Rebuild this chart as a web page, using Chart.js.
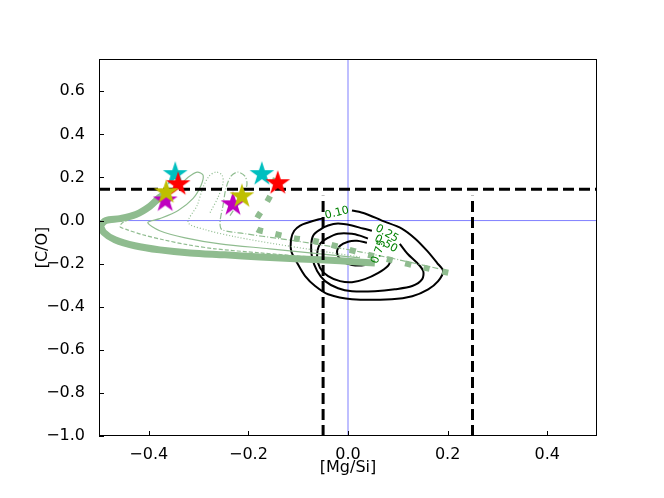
<!DOCTYPE html>
<html>
<head>
<meta charset="utf-8">
<script src="https://cdn.jsdelivr.net/npm/chart.js@4/dist/chart.umd.min.js"></script>
<style>
  body { margin: 0; background: #fff; }
</style>
</head>
<body>
<canvas id="plot" width="664" height="498"></canvas>
<script>
// axis ticks
const xTicks = [-0.4, -0.2, 0.0, 0.2, 0.4];
const yTicks = [-1.0, -0.8, -0.6, -0.4, -0.2, 0.0, 0.2, 0.4, 0.6];

// contour levels, open where the label sits
const contour10 = [[0.008,0.047],[0.034,0.033],[0.068,0.000],[0.108,-0.037],[0.135,-0.084],[0.159,-0.141],[0.179,-0.197],[0.191,-0.234],[0.181,-0.281],[0.161,-0.319],[0.129,-0.351],[0.088,-0.365],[0.008,-0.365],[-0.040,-0.342],[-0.066,-0.304],[-0.086,-0.258],[-0.102,-0.197],[-0.114,-0.141],[-0.114,-0.084],[-0.108,-0.047],[-0.096,-0.023],[-0.080,-0.009],[-0.060,0.005],[-0.052,0.009]];
const contour25 = [[0.104,-0.108],[0.120,-0.155],[0.139,-0.197],[0.151,-0.234],[0.149,-0.272],[0.129,-0.304],[0.094,-0.319],[0.054,-0.328],[0.008,-0.328],[-0.020,-0.314],[-0.046,-0.281],[-0.062,-0.234],[-0.072,-0.173],[-0.074,-0.117],[-0.070,-0.070],[-0.056,-0.042],[-0.040,-0.023],[-0.020,-0.014],[0.008,-0.023],[0.030,-0.037],[0.048,-0.047]];
const contour50 = [[0.088,-0.173],[0.080,-0.211],[0.060,-0.244],[0.034,-0.272],[0.008,-0.286],[-0.016,-0.281],[-0.040,-0.258],[-0.056,-0.220],[-0.062,-0.164],[-0.056,-0.108],[-0.040,-0.080],[-0.020,-0.061],[0.008,-0.061],[0.024,-0.070],[0.040,-0.084]];
const contour75 = [[0.054,-0.187],[0.034,-0.206],[0.008,-0.206],[-0.012,-0.187],[-0.022,-0.150],[-0.016,-0.117],[0.000,-0.098],[0.018,-0.094],[0.038,-0.103]];
const levelText = ['0.10', '0.25', '0.50', '0.75'];
const levelAt = [[-0.022,0.035],[0.078,-0.061],[0.076,-0.108],[0.062,-0.145]];
const levelRot = [-14, 30, 30, -70];

// model tracks
const thickTrack = [[-0.367,0.126],[-0.378,0.108],[-0.398,0.066],[-0.426,0.028],[-0.458,0.009],[-0.486,0.000],[-0.496,-0.023],[-0.490,-0.056],[-0.468,-0.089],[-0.428,-0.117],[-0.378,-0.136],[-0.317,-0.150],[-0.247,-0.159],[-0.177,-0.169],[-0.096,-0.178],[-0.016,-0.187],[0.054,-0.197]];
const solidTrack = [[-0.337,0.164],[-0.321,0.201],[-0.303,0.225],[-0.291,0.211],[-0.295,0.164],[-0.311,0.103],[-0.341,0.047],[-0.378,0.009],[-0.402,-0.009],[-0.378,-0.047],[-0.327,-0.080],[-0.257,-0.108],[-0.157,-0.131],[-0.056,-0.155],[0.024,-0.173]];
const dashedTrack = [[-0.361,0.131],[-0.398,0.056],[-0.424,0.023],[-0.452,-0.009],[-0.458,-0.028],[-0.444,-0.042],[-0.412,-0.066],[-0.371,-0.089],[-0.323,-0.112],[-0.267,-0.131],[-0.177,-0.150],[-0.076,-0.169],[0.004,-0.183]];
const dottedTrack = [[-0.277,0.037],[-0.261,0.108],[-0.251,0.173],[-0.253,0.211],[-0.265,0.225],[-0.279,0.206],[-0.291,0.155],[-0.303,0.070],[-0.321,-0.009],[-0.287,-0.042],[-0.227,-0.075],[-0.147,-0.108],[-0.056,-0.141],[0.024,-0.169]];
const dashDotTrack = [[-0.237,0.023],[-0.217,0.094],[-0.203,0.164],[-0.207,0.206],[-0.221,0.225],[-0.235,0.206],[-0.245,0.150],[-0.251,0.070],[-0.257,-0.009],[-0.253,-0.042],[-0.207,-0.061],[-0.137,-0.084],[-0.056,-0.112],[0.024,-0.145],[0.104,-0.183],[0.185,-0.225]];
const squareTrack = [[-0.145,0.197],[-0.153,0.131],[-0.169,0.061],[-0.185,0.000],[-0.185,-0.037],[-0.157,-0.056],[-0.112,-0.080],[-0.060,-0.098],[-0.012,-0.126],[0.034,-0.155],[0.094,-0.187],[0.145,-0.215],[0.205,-0.244]];

// limits
const coLimit = 0.145;
const mgLimits = [-0.05, 0.25];
const mgLimitTop = 0.115;

// stars
const starX = [-0.347, -0.173, -0.341, -0.141, -0.367, -0.231, -0.365, -0.213];
const starY = [0.220, 0.220, 0.173, 0.178, 0.098, 0.080, 0.136, 0.117];
const starColor = ['#00bfbf', '#00bfbf', '#ff0000', '#ff0000', '#bf00bf', '#bf00bf', '#bfbf00', '#bfbf00'];

const green = '#8fbc8f';
const pts = a => a.map(p => ({x: p[0], y: p[1]}));
const fmt = v => (v < 0 ? '\u2212' : '') + Math.abs(v).toFixed(1);

function starImg(color) {
    const c = document.createElement('canvas');
    c.width = 28; c.height = 28;
    const g = c.getContext('2d');
    g.beginPath();
    for (let i = 0; i < 10; i++) {
        const r = i % 2 ? 5 : 13;
        const a = -Math.PI / 2 + i * Math.PI / 5;
        g.lineTo(14 + r * Math.cos(a), 15 + r * Math.sin(a));
    }
    g.closePath();
    g.fillStyle = color;
    g.fill();
    return c;
}

function line(data, color, width, dash, order, tension) {
    return {
        data: pts(data), showLine: true, borderColor: color, borderWidth: width,
        borderDash: dash, pointRadius: 0, tension: tension, order: order
    };
}

const datasets = [
    line([[-0.5, 0], [0.5, 0]], 'rgba(0,0,255,0.5)', 1, [], 20, 0),
    line([[0, -1.0], [0, 0.75]], 'rgba(0,0,255,0.5)', 1, [], 20, 0),
    line(contour10, '#000', 2, [], 15, 0.3),
    line(contour25, '#000', 2, [], 15, 0.3),
    line(contour50, '#000', 2, [], 15, 0.3),
    line(contour75, '#000', 2, [], 15, 0.3),
    line(solidTrack, green, 1.2, [], 12, 0.3),
    line(dashedTrack, green, 1.2, [4, 2], 12, 0.3),
    line(dottedTrack, green, 1.2, [1, 2], 12, 0.3),
    line(dashDotTrack, green, 1.2, [6, 2, 1, 2], 12, 0.3),
    line(thickTrack, green, 7, [], 10, 0.3),
    line(squareTrack, green, 6, [6, 13], 10, 0.3),
    line([[-0.5, coLimit], [0.5, coLimit]], '#000', 3, [11, 5], 5, 0),
    line([[mgLimits[0], -1.0], [mgLimits[0], mgLimitTop]], '#000', 3, [11, 5], 5, 0),
    line([[mgLimits[1], -1.0], [mgLimits[1], mgLimitTop]], '#000', 3, [11, 5], 5, 0),
    {
        data: starX.map((x, i) => ({x: x, y: starY[i]})),
        pointStyle: starColor.map(starImg),
        pointRadius: 10, showLine: false, order: 1
    }
];

const extras = {
    id: 'extras',
    afterDatasetsDraw(chart) {
        const ctx = chart.ctx, xs = chart.scales.x, ys = chart.scales.y;
        ctx.save();
        ctx.fillStyle = '#008000';
        ctx.font = '11px "DejaVu Sans"';
        ctx.textAlign = 'center';
        ctx.textBaseline = 'middle';
        levelText.forEach((t, i) => {
            ctx.save();
            ctx.translate(xs.getPixelForValue(levelAt[i][0]), ys.getPixelForValue(levelAt[i][1]));
            ctx.rotate(levelRot[i] * Math.PI / 180);
            ctx.fillText(t, 0, 0);
            ctx.restore();
        });
        ctx.restore();
    },
    afterDraw(chart) {
        const ctx = chart.ctx, a = chart.chartArea, xs = chart.scales.x, ys = chart.scales.y;
        ctx.save();
        ctx.strokeStyle = '#000';
        ctx.lineWidth = 1;
        ctx.strokeRect(a.left + 0.5, a.top + 0.5, a.right - a.left - 1, a.bottom - a.top - 1);
        ctx.beginPath();
        xTicks.forEach(v => {
            const p = Math.round(xs.getPixelForValue(v)) + 0.5;
            ctx.moveTo(p, a.bottom); ctx.lineTo(p, a.bottom - 5);
        });
        yTicks.forEach(v => {
            const p = Math.round(ys.getPixelForValue(v)) + 0.5;
            ctx.moveTo(a.left, p); ctx.lineTo(a.left + 5, p);
        });
        ctx.stroke();
        ctx.restore();
    }
};

const tickFont = {family: 'DejaVu Sans', size: 16};

new Chart(document.getElementById('plot'), {
    type: 'scatter',
    data: { datasets: datasets },
    options: {
        responsive: false,
        animation: false,
        layout: { padding: { top: 59, right: 67, left: 0, bottom: 0 } },
        plugins: { legend: { display: false }, tooltip: { enabled: false } },
        scales: {
            x: {
                min: -0.5, max: 0.5,
                grid: { display: false },
                border: { display: false },
                afterBuildTicks: s => { s.ticks = xTicks.map(v => ({value: v})); },
                afterFit: s => { s.height = 62; },
                ticks: { callback: v => fmt(v), color: '#000', font: tickFont, padding: 1, maxRotation: 0, autoSkip: false },
                title: { display: true, text: '[Mg/Si]', color: '#000', font: tickFont, padding: { top: 0, bottom: 21 } }
            },
            y: {
                min: -1.0, max: 0.75,
                grid: { display: false },
                border: { display: false },
                afterBuildTicks: s => { s.ticks = yTicks.map(v => ({value: v})); },
                afterFit: s => { s.width = 99; },
                ticks: { callback: v => fmt(v), color: '#000', font: tickFont, padding: 6, autoSkip: false },
                title: { display: true, text: '[C/O]', color: '#000', font: tickFont, padding: { top: 33, bottom: 0 } }
            }
        }
    },
    plugins: [extras]
});
</script>
</body>
</html>
